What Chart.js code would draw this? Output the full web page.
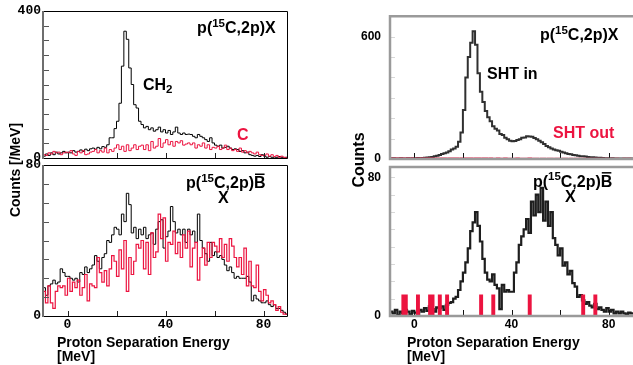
<!DOCTYPE html>
<html>
<head>
<meta charset="utf-8">
<script src="https://cdn.jsdelivr.net/npm/chart.js@4.4.0/dist/chart.umd.min.js"></script>
<style>
  html, body { margin: 0; padding: 0; background: #fff; }
  #page { position: relative; width: 633px; height: 365px; overflow: hidden; background: #fff; }
  #page canvas { position: absolute; left: 0; top: 0; }
</style>
</head>
<body>
<div id="page">
  <canvas id="panelA" width="633" height="365"></canvas>
  <canvas id="panelB" width="633" height="365"></canvas>
  <canvas id="panelC" width="633" height="365"></canvas>
  <canvas id="panelD" width="633" height="365"></canvas>
</div>
<script>
// proton separation energy spectra, 1 MeV bins starting at -10 MeV
const BIN_START = -10;
const BIN_WIDTH = 1;
const E_MIN = -10;
const E_MAX = 90;

// CH2 and C targets, inclusive p(15C,2p)X
const ch2Counts = [
  5, 11, 7, 14, 9, 16, 11, 14, 18, 14,
  16, 14, 20, 16, 18, 22, 18, 24, 20, 25,
  27, 24, 29, 25, 31, 29, 36, 55, 55, 80,
  100, 149, 250, 345, 323, 245, 200, 145, 136, 100,
  91, 82, 86, 77, 82, 73, 77, 84, 71, 77,
  68, 75, 64, 71, 84, 68, 64, 68, 64, 65,
  64, 59, 55, 64, 59, 55, 50, 45, 55, 41,
  35, 32, 35, 27, 29, 32, 27, 23, 25, 23,
  18, 20, 14, 16, 9, 7, 5, 7, 4, 9,
  5, 2, 4, 2, 0, 2, 4, 2, 0, 2
];
const carbonCounts = [
  9, 7, 14, 11, 18, 14, 16, 9, 14, 16,
  14, 20, 11, 7, 18, 14, 20, 9, 11, 16,
  18, 23, 14, 20, 16, 27, 14, 23, 18, 27,
  36, 23, 32, 18, 36, 20, 27, 36, 23, 32,
  35, 23, 36, 20, 45, 27, 32, 53, 29, 41,
  50, 36, 45, 32, 45, 41, 47, 35, 38, 41,
  36, 41, 27, 36, 32, 41, 27, 36, 23, 29,
  27, 32, 23, 27, 35, 23, 27, 20, 23, 18,
  27, 16, 20, 14, 18, 14, 11, 16, 9, 7,
  7, 11, 5, 9, 4, 7, 2, 5, 2, 0
];

// CH2 and C targets, boron-gated p(15C,2p)B
const ch2GatedCounts = [
  15, 11, 16, 17, 19, 17, 18, 25, 23, 21,
  21, 20, 19, 20, 18, 23, 22, 26, 23, 25,
  27, 32, 29, 25, 31, 33, 40, 39, 43, 47,
  46, 43, 54, 50, 65, 59, 44, 47, 41, 46,
  43, 47, 41, 43, 44, 38, 46, 50, 51, 36,
  42, 45, 58, 50, 44, 46, 43, 46, 39, 46,
  43, 45, 39, 54, 40, 36, 33, 29, 39, 32,
  34, 31, 32, 30, 27, 24, 26, 23, 20, 21,
  20, 20, 20, 21, 18, 8, 11, 9, 8, 7,
  7, 8, 6, 5, 6, 4, 4, 3, 2, 1
];
const carbonGatedCounts = [
  13, 7, 16, 7, 4, 13, 16, 15, 16, 11,
  20, 13, 18, 15, 19, 11, 15, 22, 8, 17,
  16, 15, 31, 23, 18, 24, 16, 25, 32, 29,
  21, 35, 25, 40, 13, 31, 22, 29, 38, 36,
  40, 25, 39, 22, 44, 31, 34, 54, 41, 52,
  29, 39, 38, 45, 33, 39, 31, 43, 36, 45,
  26, 36, 39, 19, 31, 36, 27, 39, 31, 39,
  37, 34, 41, 31, 38, 29, 41, 37, 31, 26,
  31, 22, 36, 16, 29, 16, 15, 27, 13, 8,
  14, 11, 7, 8, 6, 3, 5, 2, 1, 1
];

// target holder in / out, inclusive
const shtInCounts = [
  3, 4, 2, 3, 4, 3, 2, 4, 3, 4,
  4, 5, 4, 5, 6, 7, 8, 10, 13, 16,
  20, 24, 28, 32, 38, 46, 52, 60, 85, 130,
  240, 400, 500, 570, 626, 560, 420, 330, 280, 235,
  205, 185, 160, 148, 140, 122, 118, 104, 97, 90,
  87, 88, 93, 97, 104, 106, 111, 110, 109, 103,
  97, 90, 82, 73, 64, 58, 52, 47, 43, 40,
  36, 32, 28, 25, 23, 20, 18, 16, 14, 13,
  12, 10, 9, 8, 7, 6, 6, 5, 4, 4,
  3, 4, 3, 3, 2, 3, 2, 3, 2, 2
];
const shtOutCounts = [
  2, 1, 2, 1, 2, 2, 1, 2, 1, 2,
  2, 1, 2, 2, 1, 2, 3, 2, 1, 2,
  1, 2, 2, 1, 2, 3, 2, 2, 1, 2,
  2, 3, 2, 2, 1, 2, 2, 1, 2, 2,
  1, 2, 1, 1, 2, 1, 1, 2, 1, 1,
  1, 1, 2, 1, 1, 1, 1, 2, 1, 1,
  1, 0, 1, 1, 0, 1, 1, 0, 1, 1,
  0, 1, 1, 0, 1, 0, 1, 1, 0, 1,
  1, 0, 1, 0, 1, 1, 0, 1, 0, 1,
  0, 1, 0, 1, 0, 0, 1, 0, 1, 0
];

// target holder in / out, boron-gated
const shtInGatedCounts = [
  2.5, 1.5, 3.5, 0.5, 2.5, 1.5, 3.5, 2.5, 1, 3,
  2, 1, 3.5, 2.5, 4.5, 3, 5.5, 4, 2.5, 5,
  4.5, 5.5, 3.5, 6.5, 7.5, 8, 10, 11, 15, 20,
  25, 31, 39, 49, 54, 60, 52, 43, 33, 25,
  21, 20, 24, 18, 16, 4, 18, 14, 15, 14,
  14, 25, 31, 41, 46, 50, 56, 48, 66, 58,
  70, 60, 74, 55, 66, 52, 60, 45, 41, 35,
  39, 29, 31, 24, 26, 19, 17, 11, 12, 9,
  7, 8, 6, 5, 7, 4, 5, 3.5, 2.5, 4.5,
  2.5, 3.5, 1.5, 2.5, 1.5, 2.5, 1.5, 1, 2, 1.5
];
const shtOutGatedCounts = [
  0, 0, 0, 0, 0, 12, 12, 0, 0, 0,
  0, 12, 0, 0, 0, 0, 12, 12, 0, 0,
  12, 0, 0, 12, 0, 0, 0, 0, 0, 0,
  0, 0, 0, 0, 0, 0, 0, 12, 0, 0,
  0, 0, 12, 0, 0, 0, 0, 0, 0, 0,
  0, 0, 0, 0, 0, 0, 0, 12, 0, 0,
  0, 0, 0, 0, 0, 0, 0, 0, 0, 0,
  0, 0, 0, 0, 0, 0, 0, 0, 0, 12,
  0, 0, 0, 0, 12, 0, 0, 0, 0, 0,
  0, 0, 0, 0, 0, 0, 0, 0, 0, 0
];

// energy ticks every 20 MeV, labelled every 40
const energyTicks = [0, 20, 40, 60, 80];
const energyLabels = [0, 40, 80];

const PAGE_W = 633;
const PAGE_H = 365;
const Y_AXIS_W = 40;
const X_AXIS_H = 16;
const RED = '#ec1440';
const SANS = "'Liberation Sans', Arial, Helvetica, sans-serif";
const MONO = "'Liberation Mono', 'DejaVu Sans Mono', monospace";

// histogram -> stepped line points (left bin edges plus closing edge)
function toSteps(counts) {
  const pts = counts.map((c, i) => ({ x: BIN_START + i * BIN_WIDTH, y: c }));
  pts.push({ x: BIN_START + counts.length * BIN_WIDTH, y: counts[counts.length - 1] });
  return pts;
}

function hist(counts, color, width, extra) {
  return Object.assign({
    data: toSteps(counts),
    stepped: true,
    borderColor: color,
    borderWidth: width,
    pointRadius: 0,
    fill: false,
    clip: { left: 0, top: 0, right: 0, bottom: 3 }
  }, extra || {});
}

// inner tick marks + panel frame
const framePlugin = {
  id: 'frame',
  afterDatasetsDraw(chart, args, o) {
    const { ctx, chartArea: a } = chart;
    const xs = chart.scales.x, ys = chart.scales.y;
    ctx.save();
    ctx.lineWidth = 1;
    ctx.strokeStyle = o.xTickColor;
    xs.ticks.forEach(t => {
      if (t.value <= xs.min || t.value >= xs.max) return;
      const px = Math.round(xs.getPixelForValue(t.value)) + 0.5;
      ctx.beginPath(); ctx.moveTo(px, a.bottom); ctx.lineTo(px, a.bottom - o.xTickLen); ctx.stroke();
    });
    ctx.strokeStyle = o.yTickColor;
    ys.ticks.forEach(t => {
      if (t.value <= ys.min || t.value >= ys.max) return;
      const py = Math.round(ys.getPixelForValue(t.value)) + 0.5;
      ctx.beginPath(); ctx.moveTo(a.left, py); ctx.lineTo(a.left + o.yTickLen, py); ctx.stroke();
    });
    ctx.strokeStyle = o.boxColor;
    ctx.lineWidth = o.boxWidth;
    ctx.beginPath();
    if (o.openRight) {
      ctx.moveTo(a.right + 4, a.top); ctx.lineTo(a.left, a.top);
      ctx.lineTo(a.left, a.bottom); ctx.lineTo(a.right + 4, a.bottom);
    } else {
      ctx.rect(a.left + 0.5, a.top + 0.5, a.right - a.left - 1, a.bottom - a.top);
    }
    ctx.stroke();
    if (o.axisColor) {
      ctx.strokeStyle = o.axisColor;
      ctx.lineWidth = o.axisWidth;
      ctx.beginPath(); ctx.moveTo(a.left, a.top); ctx.lineTo(a.left, a.bottom + 1); ctx.stroke();
    }
    ctx.restore();
  }
};

// rich labels: [text, kind] where kind is '', 'sup', 'sub' or 'bar'
function drawParts(ctx, parts, x, y, size, color) {
  let cx = x;
  ctx.fillStyle = color;
  ctx.strokeStyle = color;
  ctx.textAlign = 'left';
  ctx.textBaseline = 'alphabetic';
  parts.forEach(([t, kind]) => {
    const small = kind === 'sup' || kind === 'sub';
    ctx.font = `bold ${small ? size * 0.72 : size}px ${SANS}`;
    const dy = kind === 'sup' ? -size * 0.4 : kind === 'sub' ? size * 0.24 : 0;
    ctx.fillText(t, cx, y + dy);
    const w = ctx.measureText(t).width;
    if (kind === 'bar') {
      ctx.lineWidth = 1.5;
      ctx.beginPath();
      ctx.moveTo(cx + 1, y - size * 0.86);
      ctx.lineTo(cx + w - 1, y - size * 0.86);
      ctx.stroke();
    }
    cx += w;
  });
}

// notes are placed in data units; page labels in page pixels
const notesPlugin = {
  id: 'notes',
  afterDatasetsDraw(chart, args, o) {
    const { ctx } = chart;
    const xs = chart.scales.x, ys = chart.scales.y;
    ctx.save();
    (o.items || []).forEach(n => {
      drawParts(ctx, n.parts, xs.getPixelForValue(n.x), ys.getPixelForValue(n.y), n.size, n.color);
    });
    (o.page || []).forEach(p => {
      ctx.save();
      ctx.translate(p.x, p.y);
      if (p.rotate) ctx.rotate(p.rotate);
      ctx.font = `bold ${p.size}px ${SANS}`;
      ctx.fillStyle = '#000';
      ctx.textAlign = p.align || 'left';
      ctx.textBaseline = p.baseline || 'alphabetic';
      ctx.fillText(p.text, 0, 0);
      ctx.restore();
    });
    ctx.restore();
  }
};

Chart.register(framePlugin, notesPlugin);

function makePanel(id, p) {
  const [L, T, R, B] = p.area;
  return new Chart(document.getElementById(id), {
    type: 'line',
    data: { datasets: p.datasets },
    options: {
      responsive: false,
      animation: false,
      events: [],
      layout: {
        padding: { left: L - Y_AXIS_W, top: T, right: PAGE_W - R, bottom: PAGE_H - B - (p.xLabels ? X_AXIS_H : 0) }
      },
      plugins: {
        legend: { display: false },
        tooltip: { enabled: false },
        frame: p.frame,
        notes: { items: p.notes, page: p.page }
      },
      scales: {
        x: {
          type: 'linear',
          min: E_MIN, max: E_MAX,
          grid: { display: false, drawTicks: false },
          border: { display: false },
          afterBuildTicks: s => { s.ticks = energyTicks.map(v => ({ value: v })); },
          afterFit: s => { s.height = p.xLabels ? X_AXIS_H : 0; },
          ticks: {
            display: !!p.xLabels,
            autoSkip: false,
            maxRotation: 0,
            padding: p.xPad,
            color: '#000',
            font: p.tickFont,
            callback: v => energyLabels.includes(v) ? String(v) : ''
          }
        },
        y: {
          min: 0, max: p.yMax,
          grid: { display: false, drawTicks: false },
          border: { display: false },
          afterBuildTicks: s => {
            const list = [];
            for (let v = 0; v <= p.yMax; v += p.yStep) list.push({ value: v });
            s.ticks = list;
          },
          afterFit: s => { s.width = Y_AXIS_W; },
          ticks: {
            autoSkip: false,
            padding: p.yPad,
            color: '#000',
            font: p.tickFont,
            callback: v => p.yLabels.includes(v) ? String(v) : ''
          }
        }
      }
    }
  });
}

const monoTicks = { family: MONO, size: 13, weight: 'bold' };
const sansTicks = { family: SANS, size: 12, weight: 'bold' };
const reaction = [['p(', ''], ['15', 'sup'], ['C,2p)', '']];

const leftFrame = {
  xTickLen: 5, xTickColor: '#222', yTickLen: 6, yTickColor: '#555',
  boxColor: '#000', boxWidth: 1, axisColor: '#6e6e6e', axisWidth: 2
};
const rightFrame = {
  xTickLen: 6, xTickColor: '#111', yTickLen: 5, yTickColor: '#d8d8d8',
  boxColor: '#9a9a9a', boxWidth: 2.5, openRight: true
};

makePanel('panelA', {
  area: [43, 11, 288, 158],
  yMax: 400, yStep: 40, yLabels: [0, 400], yPad: 2,
  tickFont: monoTicks,
  datasets: [
    hist(carbonCounts, RED, 1),
    hist(ch2Counts, '#000', 1)
  ],
  frame: leftFrame,
  notes: [
    { parts: reaction.concat([['X', '']]), x: 52.9, y: 340, size: 16, color: '#000' },
    { parts: [['CH', ''], ['2', 'sub']], x: 30.8, y: 186, size: 16, color: '#000' },
    { parts: [['C', '']], x: 69.2, y: 50, size: 16, color: RED }
  ]
});

makePanel('panelB', {
  area: [43, 165, 288, 316],
  yMax: 80, yStep: 10, yLabels: [0, 80], yPad: 2,
  xLabels: true, xPad: 1,
  tickFont: monoTicks,
  datasets: [
    hist(carbonGatedCounts, RED, 1.2),
    hist(ch2GatedCounts, '#000', 1)
  ],
  frame: leftFrame,
  notes: [
    { parts: reaction.concat([['B', 'bar']]), x: 48.4, y: 67.8, size: 16, color: '#000' },
    { parts: [['X', '']], x: 61.4, y: 59.9, size: 16, color: '#000' }
  ],
  page: [
    { text: 'Counts [/MeV]', x: 20, y: 170, size: 14, rotate: -Math.PI / 2, align: 'center' },
    { text: 'Proton Separation Energy', x: 57, y: 347, size: 14 },
    { text: '[MeV]', x: 57, y: 361, size: 14 }
  ]
});

makePanel('panelC', {
  area: [390, 12, 633, 159],
  yMax: 700, yStep: 100, yLabels: [0, 600], yPad: 9,
  tickFont: sansTicks,
  datasets: [
    hist(shtOutCounts, RED, 2),
    hist(shtInCounts, '#303030', 2)
  ],
  frame: rightFrame,
  notes: [
    { parts: reaction.concat([['X', '']]), x: 51.7, y: 583, size: 16, color: '#000' },
    { parts: [['SHT in', '']], x: 29.9, y: 390, size: 16, color: '#000' },
    { parts: [['SHT out', '']], x: 57.1, y: 105, size: 16, color: RED }
  ]
});

makePanel('panelD', {
  area: [390, 167, 633, 316],
  yMax: 86, yStep: 10, yLabels: [0, 80], yPad: 9,
  xLabels: true, xPad: 1,
  tickFont: sansTicks,
  datasets: [
    hist(shtOutGatedCounts, RED, 1.5, { fill: 'origin', backgroundColor: RED }),
    hist(shtInGatedCounts, '#1e1e1e', 2.2)
  ],
  frame: rightFrame,
  notes: [
    { parts: reaction.concat([['B', 'bar']]), x: 48.8, y: 74.7, size: 16, color: '#000' },
    { parts: [['X', '']], x: 62, y: 65.8, size: 16, color: '#000' }
  ],
  page: [
    { text: 'Counts', x: 364, y: 160, size: 16, rotate: -Math.PI / 2, align: 'center' },
    { text: 'Proton Separation Energy', x: 407, y: 347, size: 14 },
    { text: '[MeV]', x: 407, y: 361, size: 14 }
  ]
});
</script>
</body>
</html>
